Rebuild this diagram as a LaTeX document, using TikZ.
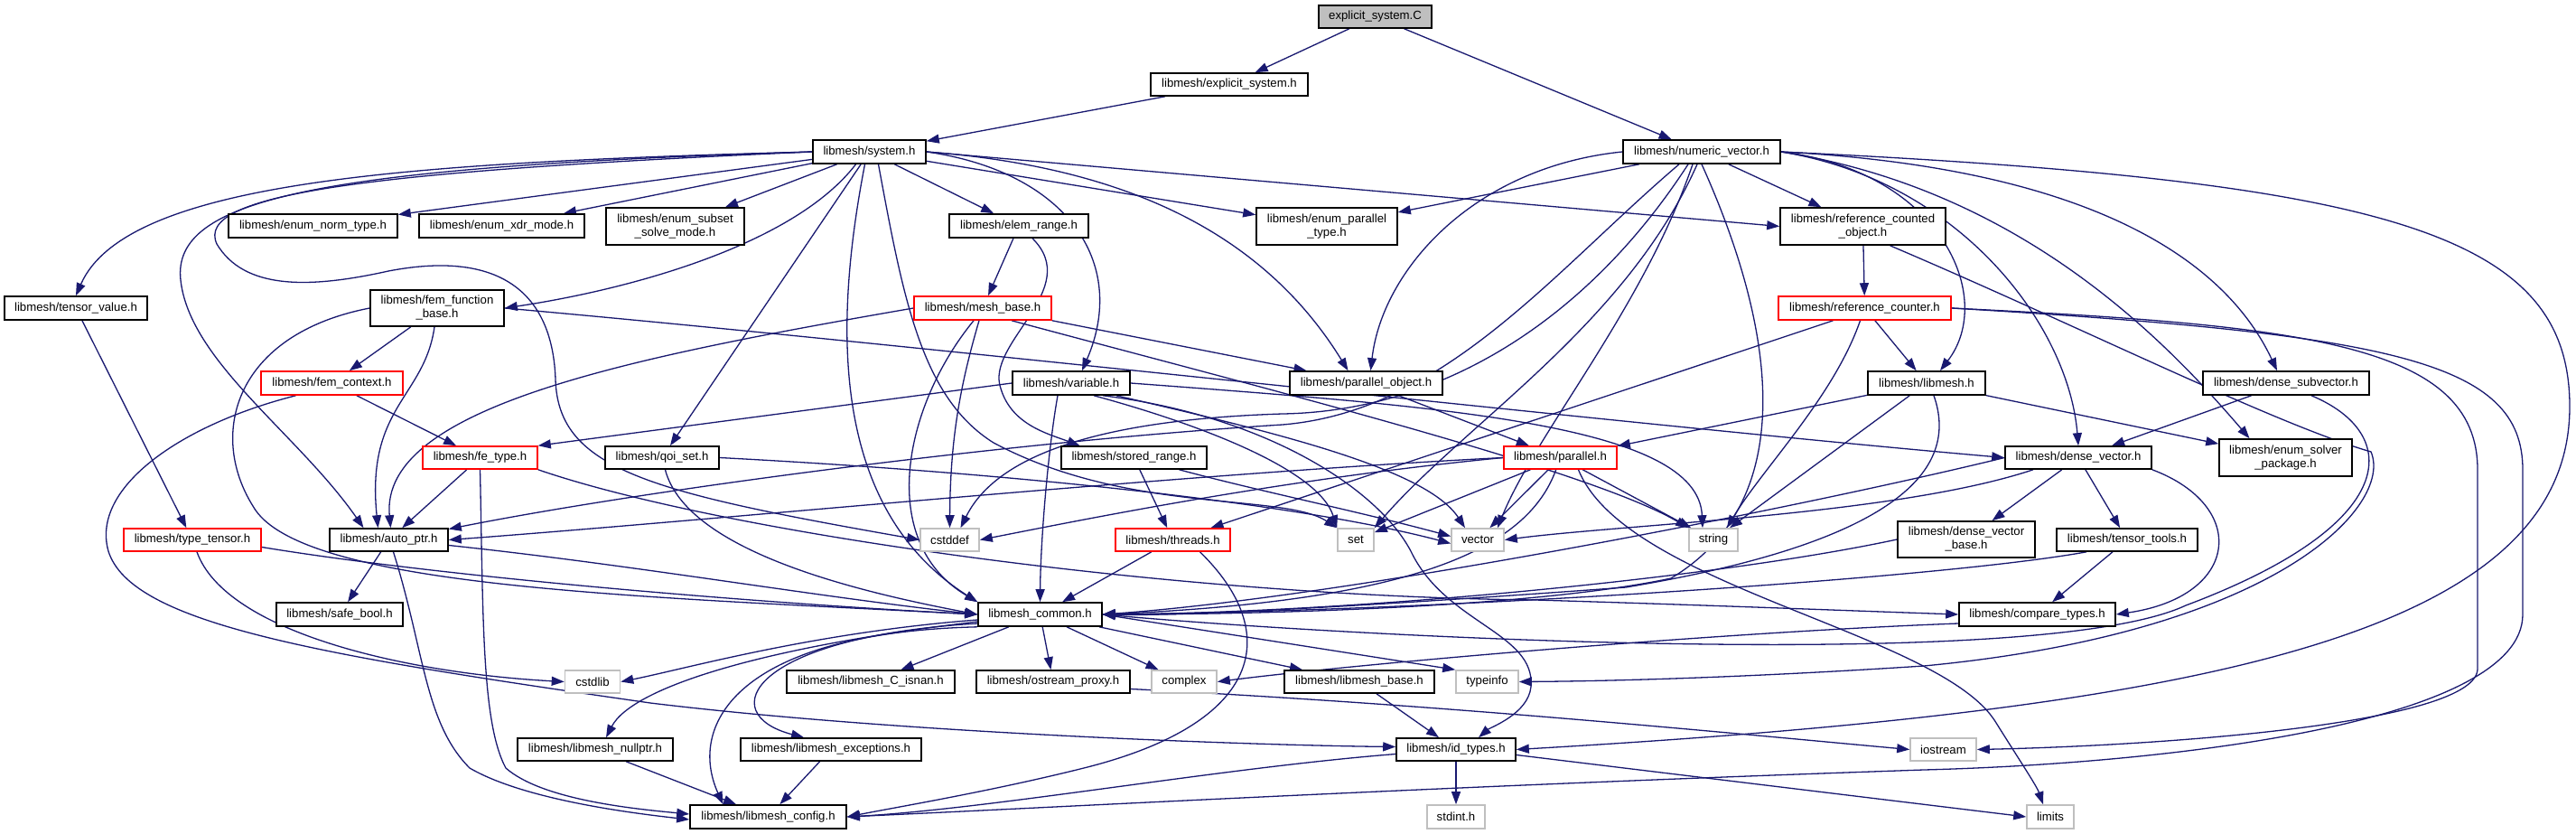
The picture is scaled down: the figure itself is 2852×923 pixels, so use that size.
\documentclass[tikz,border=0pt]{standalone}
\usepackage{fontspec}
\setmainfont{Liberation Sans}
\usetikzlibrary{arrows.meta}
\definecolor{edgecol}{HTML}{191970}
\definecolor{lightgr}{HTML}{BFBFBF}
\newcommand{\nodefont}{\fontsize{13.2}{15}\selectfont}
\pgfdeclarelayer{bgl}
\pgfdeclarelayer{edl}
\pgfsetlayers{bgl,edl,main}
\tikzset{
  hdrbox/.style={draw=black, line width=1.6pt, fill=white, inner sep=0pt, font=\nodefont, align=center, minimum height=25pt, text=black},
  truncbox/.style={hdrbox, draw=red},
  sysbox/.style={hdrbox, draw=lightgr},
  rootbox/.style={hdrbox, fill=lightgr},
  dep/.style={draw=edgecol, line width=1.3pt, -{Triangle[length=14pt,width=10pt]}},
}
\begin{document}
\begin{tikzpicture}[x=1pt,y=-1pt]
\begin{pgfonlayer}{bgl}
\fill[white] (0,0) rectangle (2852,923);
\end{pgfonlayer}
\useasboundingbox (0,0) rectangle (2852,923);
% ---------- nodes ----------
\node[rootbox, minimum width=125pt] (esC) at (1522.5,18.5) {explicit\_system.C};
\node[hdrbox, minimum width=174pt] (esh) at (1361,93.5) {libmesh/explicit\_system.h};
\node[hdrbox, minimum width=125pt, minimum height=26pt] (sys) at (962.5,168) {libmesh/system.h};
\node[hdrbox, minimum width=174pt, minimum height=26pt] (nv) at (1884,168) {libmesh/numeric\_vector.h};
\node[hdrbox, minimum width=187pt, minimum height=26pt] (norm) at (346.5,250) {libmesh/enum\_norm\_type.h};
\node[hdrbox, minimum width=183pt, minimum height=26pt] (xdr) at (555.5,250) {libmesh/enum\_xdr\_mode.h};
\node[hdrbox, minimum width=153pt, minimum height=41pt] (subset) at (747.5,250.5) {libmesh/enum\_subset\\\_solve\_mode.h};
\node[hdrbox, minimum width=154pt, minimum height=26pt] (elem) at (1128,250) {libmesh/elem\_range.h};
\node[hdrbox, minimum width=156pt, minimum height=41pt] (epar) at (1469,250.5) {libmesh/enum\_parallel\\\_type.h};
\node[hdrbox, minimum width=183pt, minimum height=41pt] (rco) at (2062.5,250.5) {libmesh/reference\_counted\\\_object.h};
\node[hdrbox, minimum width=158pt, minimum height=26pt] (tv) at (84,341) {libmesh/tensor\_value.h};
\node[hdrbox, minimum width=148pt, minimum height=40pt] (ffb) at (484,341) {libmesh/fem\_function\\\_base.h};
\node[truncbox, minimum width=152pt, minimum height=26pt] (mb) at (1088,341) {libmesh/mesh\_base.h};
\node[truncbox, minimum width=191pt, minimum height=26pt] (rc) at (2064.5,341) {libmesh/reference\_counter.h};
\node[truncbox, minimum width=157pt, minimum height=26pt] (fc) at (367.5,424) {libmesh/fem\_context.h};
\node[hdrbox, minimum width=130pt, minimum height=26pt] (var) at (1186,424) {libmesh/variable.h};
\node[hdrbox, minimum width=169pt, minimum height=26pt] (po) at (1512.5,424) {libmesh/parallel\_object.h};
\node[hdrbox, minimum width=130pt, minimum height=26pt] (lm) at (2133,424) {libmesh/libmesh.h};
\node[hdrbox, minimum width=184pt, minimum height=26pt] (dsv) at (2531,424) {libmesh/dense\_subvector.h};
\node[truncbox, minimum width=127pt] (fe) at (531.5,506.5) {libmesh/fe\_type.h};
\node[hdrbox, minimum width=126pt] (qoi) at (733,506.5) {libmesh/qoi\_set.h};
\node[hdrbox, minimum width=161pt] (sr) at (1255.5,506.5) {libmesh/stored\_range.h};
\node[truncbox, minimum width=125pt] (par) at (1727.5,506.5) {libmesh/parallel.h};
\node[hdrbox, minimum width=162pt] (dv) at (2301,506.5) {libmesh/dense\_vector.h};
\node[hdrbox, minimum width=147pt, minimum height=41pt] (esp) at (2530.5,506.5) {libmesh/enum\_solver\\\_package.h};
\node[truncbox, minimum width=152pt] (tt) at (213,597.5) {libmesh/type\_tensor.h};
\node[hdrbox, minimum width=131pt] (ap) at (430.5,597.5) {libmesh/auto\_ptr.h};
\node[sysbox, minimum width=65pt] (cstddef) at (1051.5,597.5) {cstddef};
\node[truncbox, minimum width=127pt] (thr) at (1298.5,597.5) {libmesh/threads.h};
\node[sysbox, minimum width=40pt] (set) at (1501,597.5) {set};
\node[sysbox, minimum width=58pt] (vec) at (1636,597.5) {vector};
\node[sysbox, minimum width=54pt] (str) at (1897,597.5) {string};
\node[hdrbox, minimum width=152pt, minimum height=40pt] (dvb) at (2177,597) {libmesh/dense\_vector\\\_base.h};
\node[hdrbox, minimum width=156pt] (ttools) at (2355,597.5) {libmesh/tensor\_tools.h};
\node[hdrbox, minimum width=140pt, minimum height=26pt] (sb) at (376,680) {libmesh/safe\_bool.h};
\node[hdrbox, minimum width=137pt, minimum height=26pt] (lc) at (1151.5,680) {libmesh\_common.h};
\node[hdrbox, minimum width=173pt, minimum height=26pt] (ct) at (2255.5,680) {libmesh/compare\_types.h};
\node[sysbox, minimum width=61pt] (cstdlib) at (656,754.5) {cstdlib};
\node[hdrbox, minimum width=186pt] (isnan) at (964,754.5) {libmesh/libmesh\_C\_isnan.h};
\node[hdrbox, minimum width=170pt] (op) at (1166,754.5) {libmesh/ostream\_proxy.h};
\node[sysbox, minimum width=72pt] (complex) at (1311,754.5) {complex};
\node[hdrbox, minimum width=166pt] (lb) at (1505,754.5) {libmesh/libmesh\_base.h};
\node[sysbox, minimum width=69pt] (typeinfo) at (1646.5,754.5) {typeinfo};
\node[hdrbox, minimum width=172pt] (np) at (659,829.5) {libmesh/libmesh\_nullptr.h};
\node[hdrbox, minimum width=200pt] (exc) at (920,829.5) {libmesh/libmesh\_exceptions.h};
\node[hdrbox, minimum width=132pt] (id) at (1612,829.5) {libmesh/id\_types.h};
\node[sysbox, minimum width=73pt] (ios) at (2151.5,829.5) {iostream};
\node[hdrbox, minimum width=173pt, minimum height=26pt] (cfg) at (850.5,904) {libmesh/libmesh\_config.h};
\node[sysbox, minimum width=64pt, minimum height=26pt] (stdint) at (1612,904) {stdint.h};
\node[sysbox, minimum width=52pt, minimum height=26pt] (limits) at (2270,904) {limits};
% ---------- edges ----------
\begin{pgfonlayer}{edl}
% root
\draw[dep] (esC) -- (esh);
\draw[dep] (esC) -- (nv);
\draw[dep] (esh) -- (sys);
% system.h
\draw[dep] (sys.west) .. controls (450,180) and (140,200) .. (tv.north);
\draw[dep] (sys.west) .. controls (350,185) and (190,220) .. (200,310) .. controls (210,400) and (330,480) .. ([xshift=-28]ap.north);
\draw[dep] (sys.west) .. controls (400,190) and (215,215) .. (240,270) .. controls (270,320) and (340,320) .. (430,300) .. controls (560,275) and (612,330) .. (615,420) .. controls (618,520) and (720,545) .. (cstddef.west);
\draw[dep] (sys) -- (norm);
\draw[dep] (sys) -- (xdr);
\draw[dep] (sys) -- (subset);
\draw[dep] ([xshift=-15]sys.south) .. controls (880,270) and (700,320) .. (ffb.east);
\draw[dep] (sys) -- (qoi);
\draw[dep] ([xshift=-5]sys.south) .. controls (925,350) and (915,560) .. (lc.north west);
\draw[dep] (sys) -- (elem);
\draw[dep] (sys.east) .. controls (1180,190) and (1250,290) .. ([xshift=12]var.north);
\draw[dep] (sys.east) .. controls (1250,185) and (1400,260) .. ([xshift=-20]po.north);
\draw[dep] (sys) -- (epar);
\draw[dep] (sys.east) -- (rco.west);
\draw[dep] ([xshift=10]sys.south) .. controls (1000,330) and (1020,440) .. (1100,490) .. controls (1250,570) and (1420,545) .. (set.north west);
% numeric_vector.h
\draw[dep] ([xshift=-25]nv.south) .. controls (1720,300) and (1600,455) .. (1420,470) .. controls (1100,490) and (700,545) .. ([yshift=12]ap.east);
\draw[dep] ([xshift=-15]nv.south) .. controls (1760,350) and (1600,455) .. (1420,458) .. controls (1200,465) and (1100,510) .. ([xshift=12]cstddef.north);
\draw[dep] (nv) -- (epar);
\draw[dep] (nv.west) .. controls (1630,185) and (1530,300) .. ([xshift=5]po.north);
\draw[dep] (nv) -- (rco);
\draw[dep] (nv.south) .. controls (1960,350) and (2000,550) .. (1850,640) .. controls (1700,672) and (1400,680) .. (lc.east);
\draw[dep] (nv.east) .. controls (2150,190) and (2210,330) .. ([xshift=15]lm.north);
\draw[dep] (nv.east) .. controls (2300,185) and (2460,280) .. ([xshift=-10]dsv.north);
\draw[dep] (nv.east) .. controls (2170,200) and (2290,360) .. (dv.north);
\draw[dep] (nv.east) .. controls (2240,210) and (2400,380) .. ([xshift=-40]esp.north);
\draw[dep] (nv.east) .. controls (2650,200) and (2845,260) .. (2845,450) .. controls (2845,700) and (2450,785) .. (id.east);
\draw[dep] ([xshift=-5]nv.south) .. controls (1800,360) and (1620,470) .. (set.north east);
\draw[dep] ([xshift=-10]nv.south) .. controls (1820,340) and (1700,480) .. ([xshift=22]vec.north);
% elem_range.h
\draw[dep] (elem) -- (mb);
\draw[dep] ([xshift=15]elem.south) .. controls (1200,320) and (1090,380) .. (1108,430) .. controls (1120,470) and (1160,480) .. ([xshift=-60]sr.north);
% reference_counted_object.h
\draw[dep] (rco) -- (rc);
\draw[dep] ([xshift=30]rco.south) .. controls (2300,360) and (2520,470) .. (2625,500) .. controls (2650,560) and (2520,700) .. (2130,737) .. controls (1900,752) and (1750,754) .. (typeinfo.east);
% tensor_value.h
\draw[dep] (tv) -- (tt);
% fem_function_base.h
\draw[dep] (ffb) -- (fc);
\draw[dep] ([xshift=-3]ffb.south) .. controls (470,440) and (405,450) .. ([xshift=-12]ap.north);
\draw[dep] (ffb.west) .. controls (260,370) and (230,480) .. (280,560) .. controls (330,650) and (700,660) .. (lc.west);
\draw[dep] (ffb.east) .. controls (1000,380) and (1800,470) .. (dv.west);
% mesh_base.h
\draw[dep] (mb.west) .. controls (700,395) and (420,450) .. ([xshift=2]ap.north);
\draw[dep] (mb) .. controls (1065,420) and (1052,480) .. (cstddef.north);
\draw[dep] ([xshift=-10]mb.south) .. controls (1000,450) and (970,600) .. (lc.north west);
\draw[dep] (mb.south east) -- ([xshift=-66]po.north);
\draw[dep] ([xshift=32]mb.south) .. controls (1400,430) and (1760,520) .. (str.north west);
% parallel_object.h
\draw[dep] (po) -- (par);
% reference_counter.h
\draw[dep] ([xshift=-35]rc.south) -- ([xshift=42]thr.north);
\draw[dep] (rc) -- (lm);
\draw[dep] ([xshift=-5]rc.south) .. controls (2030,440) and (1950,520) .. ([xshift=15]str.north);
\draw[dep] (rc.east) .. controls (2550,360) and (2743,380) .. (2743,520) -- (2743,740) .. controls (2743,800) and (2400,825) .. (ios.east);
\draw[dep] (rc.east) .. controls (2650,370) and (2793,400) .. (2793,520) -- (2793,680) .. controls (2793,800) and (2400,845) .. (2130,852) .. controls (1600,870) and (1200,892) .. (cfg.east);
% libmesh.h
\draw[dep] (lm) -- (par);
\draw[dep] (lm) -- (esp);
\draw[dep] (lm) -- (str);
\draw[dep] ([xshift=8]lm.south) .. controls (2170,520) and (2100,600) .. (1800,650) .. controls (1500,672) and (1300,682) .. (lc.east);
% dense_subvector.h
\draw[dep] (dsv) -- (dv);
\draw[dep] ([xshift=28]dsv.south) .. controls (2660,480) and (2660,580) .. (2420,670) .. controls (2260,745) and (1500,705) .. (lc.east);
% fem_context.h
\draw[dep] (fc) -- (fe);
\draw[dep] ([xshift=-40]fc.south) .. controls (200,470) and (100,540) .. (120,610) .. controls (145,690) and (350,725) .. (720,778) .. controls (1000,812) and (1400,825) .. ([yshift=3]id.west);
% variable.h
\draw[dep] (var.west) -- (fe.north east);
\draw[dep] ([xshift=35]var.south) .. controls (1400,460) and (1525,540) .. (1562,610) .. controls (1600,690) and (1700,700) .. (1695,760) .. controls (1692,790) and (1650,805) .. ([xshift=25]id.north);
\draw[dep] ([xshift=-15]var.south) .. controls (1160,500) and (1152,600) .. (lc.north);
\draw[dep] ([xshift=25]var.south) .. controls (1330,470) and (1460,520) .. (set.north west);
\draw[dep] (var.east) .. controls (1600,450) and (1880,470) .. ([xshift=-12]str.north);
\draw[dep] ([xshift=50]var.south) .. controls (1420,480) and (1580,520) .. ([xshift=-14]vec.north);
% fe_type.h
\draw[dep] (fe) -- (ap);
\draw[dep] (fe.south) .. controls (535,680) and (533,800) .. (560,850) .. controls (600,885) and (700,895) .. ([yshift=3]cfg.west);
\draw[dep] (fe.south east) .. controls (800,590) and (1300,660) .. (1700,664) .. controls (1900,670) and (2050,676) .. (ct.west);
% qoi_set.h
\draw[dep] (qoi) .. controls (760,610) and (950,655) .. (lc.west);
\draw[dep] (qoi.east) .. controls (1150,525) and (1450,560) .. ([yshift=-4]vec.west);
% stored_range.h
\draw[dep] (sr) -- (thr);
\draw[dep] ([xshift=50]sr.south) .. controls (1400,545) and (1500,565) .. ([yshift=4]vec.west);
% threads.h
\draw[dep] (thr) -- (lc);
\draw[dep] ([xshift=30]thr.south) .. controls (1420,700) and (1400,800) .. (1200,850) .. controls (1100,875) and (1000,892) .. (cfg.east);
% parallel.h
\draw[dep] (par.west) .. controls (1300,525) and (800,575) .. (ap.east);
\draw[dep] (par.west) .. controls (1420,530) and (1200,575) .. (cstddef.east);
\draw[dep] (par) -- (set);
\draw[dep] (par) -- (vec);
\draw[dep] (par) -- (str);
\draw[dep] (par) .. controls (1690,610) and (1560,665) .. (lc.east);
\draw[dep] ([xshift=20]par.south) .. controls (1800,650) and (2150,700) .. (2210,800) .. controls (2235,840) and (2255,870) .. ([xshift=-8]limits.north);
% dense_vector.h
\draw[dep] (dv) -- (dvb);
\draw[dep] (dv) -- (ttools);
\draw[dep] (dv.south east) .. controls (2490,560) and (2480,660) .. (ct.east);
\draw[dep] (dv.west) .. controls (2000,560) and (1500,660) .. (lc.east);
\draw[dep] ([xshift=-50]dv.south) .. controls (2100,570) and (1800,580) .. (vec.east);
% dense_vector_base.h, tensor_tools.h
\draw[dep] (dvb.west) .. controls (1900,640) and (1500,678) .. (lc.east);
\draw[dep] (ttools) -- (ct);
\draw[dep] ([xshift=-45]ttools.south) .. controls (2150,640) and (1600,676) .. (lc.east);
% compare_types.h
\draw[dep] ([yshift=-10]ct.west) .. controls (1900,700) and (1500,735) .. (complex.east);
% type_tensor.h
\draw[dep] ([yshift=-8]tt.east) .. controls (500,640) and (850,668) .. (lc.west);
\draw[dep] ([xshift=5]tt.south) .. controls (250,700) and (450,745) .. (cstdlib.west);
% auto_ptr.h
\draw[dep] (ap) -- (sb);
\draw[dep] ([yshift=-6]ap.east) .. controls (700,625) and (900,660) .. (lc.west);
\draw[dep] ([xshift=5]ap.south) .. controls (470,720) and (470,800) .. (520,850) .. controls (580,885) and (700,900) .. ([yshift=-3]cfg.west);
% libmesh_common.h
\draw[dep] ([yshift=-6]lc.west) .. controls (900,700) and (760,740) .. (cstdlib.east);
\draw[dep] (lc) -- (isnan);
\draw[dep] (lc) -- (op);
\draw[dep] (lc) -- (complex);
\draw[dep] (lc) -- (lb);
\draw[dep] (lc.east) -- (typeinfo.north west);
\draw[dep] ([yshift=-8]lc.west) .. controls (850,715) and (700,760) .. ([xshift=12]np.north);
\draw[dep] ([yshift=-10]lc.west) .. controls (830,705) and (790,790) .. ([xshift=-30]exc.north);
\draw[dep] (lc.south west) .. controls (820,700) and (760,800) .. ([xshift=-50]cfg.north);
% leaves
\draw[dep] ([yshift=-8]op.east) .. controls (1600,780) and (1900,810) .. (ios.west);
\draw[dep] (lb) -- (id);
\draw[dep] ([yshift=-5]id.west) .. controls (1350,850) and (1100,895) .. (cfg.east);
\draw[dep] (id) -- (stdint);
\draw[dep] ([yshift=-6]id.east) -- (limits.west);
\draw[dep] (np) -- (cfg);
\draw[dep] (exc) -- (cfg);
\end{pgfonlayer}
\end{tikzpicture}
\end{document}
